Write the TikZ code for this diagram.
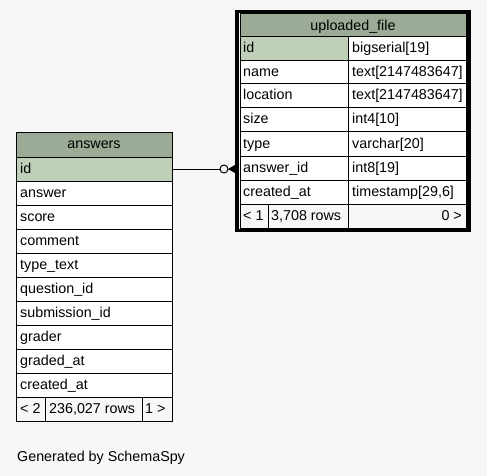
\documentclass[tikz,border=0pt]{standalone}
\usepackage{fontspec}
\setmainfont{Liberation Sans}
\definecolor{bgc}{HTML}{F7F7F7}
\definecolor{headc}{HTML}{9BAB96}
\definecolor{pkc}{HTML}{BED1B8}
\begin{document}
\begin{tikzpicture}[x=1pt,y=-1pt,
  font=\fontsize{14.3}{16}\selectfont,
  txt/.style={anchor=base west, inner sep=0pt},
  txtc/.style={anchor=base, inner sep=0pt},
  txte/.style={anchor=base east, inner sep=0pt},
  grid/.style={draw=black, line width=1pt},
  frame/.style={draw=black, line width=3.5pt}]
\useasboundingbox[fill=bgc] (0,0) rectangle (487,476);

% ---------- uploaded_file ----------
\fill[headc] (240,14) rectangle (466,37);
\fill[white] (240,37) rectangle (466,204);
\fill[pkc] (240,37) rectangle (348,61);
\foreach \y in {37,61,84,108,132,156,180,204} \draw[grid] (240,\y) -- (466,\y);
\draw[grid] (348,37) -- (348,228);
\draw[grid] (268,204) -- (268,228);
\draw[grid] (240,14) rectangle (466,228);
\draw[frame] (236.75,11.75) rectangle (468.75,230.25);
\node[txtc] (u-h) at (353,31) {uploaded\_file};
\node[txt] (u-id) at (243,53) {id};          \node[txt] (u-idt) at (352,53) {bigserial[19]};
\node[txt] (u-name) at (243,77) {name};      \node[txt] (u-namet) at (352,77) {text[2147483647]};
\node[txt] (u-loc) at (243,100) {location};  \node[txt] (u-loct) at (352,100) {text[2147483647]};
\node[txt] (u-size) at (243,124) {size};     \node[txt] (u-sizet) at (352,124) {int4[10]};
\node[txt] (u-type) at (243,148) {type};     \node[txt] (u-typet) at (352,148) {varchar[20]};
\node[txt] (u-aid) at (243,172) {answer\_id}; \node[txt] (u-aidt) at (352,172) {int8[19]};
\node[txt] (u-cr) at (243,196) {created\_at}; \node[txt] (u-crt) at (352,196) {timestamp[29,6]};
\node[txt] (u-f1) at (243,220) {< 1};
\node[txt] (u-f2) at (271,220) {3,708 rows};
\node[txte] (u-f3) at (462,220) {0 >};

% ---------- answers ----------
\fill[headc] (16,133) rectangle (172,157);
\fill[pkc] (16,157) rectangle (172,181);
\fill[white] (16,181) rectangle (172,397);
\foreach \y in {157,181,...,397} \draw[grid] (16,\y) -- (172,\y);
\draw[grid] (45,397) -- (45,421);
\draw[grid] (142,397) -- (142,421);
\draw[grid] (16,133) rectangle (172,421);
\node[txtc] (a-h) at (94,149) {answers};
\node[txt] (a-id) at (20,173) {id};
\node[txt] (a-ans) at (20,197) {answer};
\node[txt] (a-score) at (20,221) {score};
\node[txt] (a-com) at (20,245) {comment};
\node[txt] (a-tt) at (20,269) {type\_text};
\node[txt] (a-q) at (20,293) {question\_id};
\node[txt] (a-s) at (20,317) {submission\_id};
\node[txt] (a-g) at (20,341) {grader};
\node[txt] (a-ga) at (20,365) {graded\_at};
\node[txt] (a-cr) at (20,389) {created\_at};
\node[txt] (a-f1) at (20,413) {< 2};
\node[txt] (a-f2) at (49,413) {236,027 rows};
\node[txt] (a-f3) at (145,413) {1 >};

% ---------- connector ----------
\coordinate (a-id-e) at (172,169);
\coordinate (u-aid-w) at (235,169);
\coordinate (cf) at (229,169);
\draw[line width=1pt] (a-id-e) -- (u-aid-w);
\draw[line width=1pt] (cf) -- (235,165.5) (cf) -- (235,172.5);
\fill (cf) -- (235,165.5) -- (235,172.5) -- cycle;
\draw[line width=1pt, fill=bgc] (224,169) circle (4);

\node[txt] (gen) at (17,461) {Generated by SchemaSpy};
\end{tikzpicture}
\end{document}
